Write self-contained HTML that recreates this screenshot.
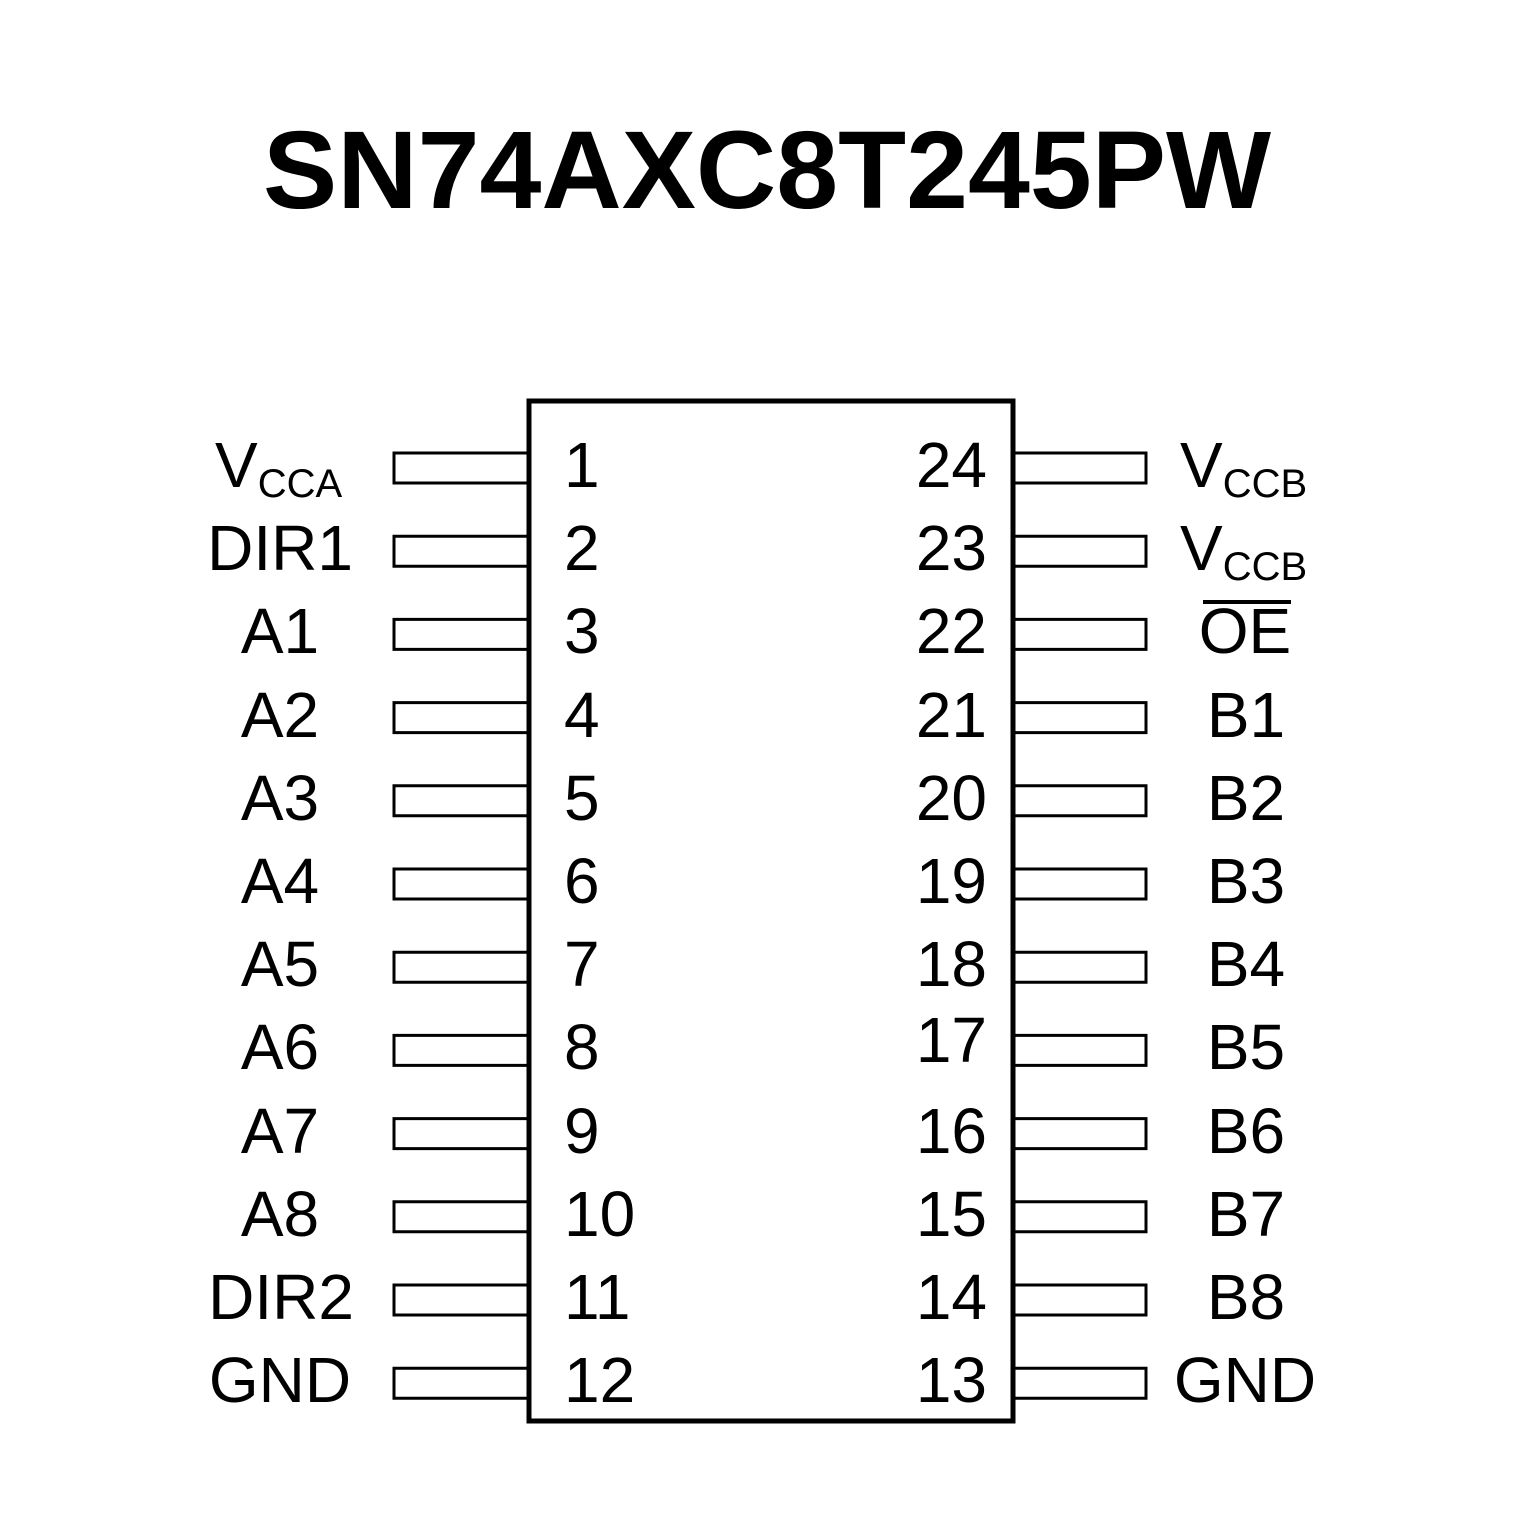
<!DOCTYPE html>
<html><head><meta charset="utf-8"><style>html,body{margin:0;padding:0;background:#fff}svg{display:block}</style></head>
<body>
<svg width="1535" height="1535" viewBox="0 0 1535 1535" xmlns="http://www.w3.org/2000/svg">
<rect width="1535" height="1535" fill="#fff"/>
<text x="767" y="208" text-anchor="middle" font-family="Liberation Sans, sans-serif" font-weight="bold" font-size="110" textLength="1008" lengthAdjust="spacingAndGlyphs">SN74AXC8T245PW</text>
<rect x="529" y="401" width="484" height="1020" fill="none" stroke="#000" stroke-width="5"/>
<g fill="none" stroke="#000" stroke-width="3">
<path d="M527 453H394V483H527M527 536.2H394V566.2H527M527 619.4H394V649.4H527M527 702.6H394V732.6H527M527 785.8H394V815.8H527M527 869H394V899H527M527 952.2H394V982.2H527M527 1035.4H394V1065.4H527M527 1118.6H394V1148.6H527M527 1201.8H394V1231.8H527M527 1285H394V1315H527M527 1368.2H394V1398.2H527"/>
<path d="M1015 453H1146V483H1015M1015 536.2H1146V566.2H1015M1015 619.4H1146V649.4H1015M1015 702.6H1146V732.6H1015M1015 785.8H1146V815.8H1015M1015 869H1146V899H1015M1015 952.2H1146V982.2H1015M1015 1035.4H1146V1065.4H1015M1015 1118.6H1146V1148.6H1015M1015 1201.8H1146V1231.8H1015M1015 1285H1146V1315H1015M1015 1368.2H1146V1398.2H1015"/>
</g>
<g font-family="Liberation Sans, sans-serif" font-size="64" fill="#000">
<g text-anchor="start">
<text x="564" y="487">1</text><text x="564" y="570">2</text><text x="564" y="653">3</text><text x="564" y="737">4</text><text x="564" y="820">5</text><text x="564" y="903">6</text><text x="564" y="986">7</text><text x="564" y="1069">8</text><text x="564" y="1153">9</text><text x="564" y="1236">10</text><text x="564" y="1319">11</text><text x="564" y="1402">12</text>
</g>
<g text-anchor="end">
<text x="987" y="487">24</text><text x="987" y="570">23</text><text x="987" y="653">22</text><text x="987" y="737">21</text><text x="987" y="820">20</text><text x="987" y="903">19</text><text x="987" y="986">18</text><text x="987" y="1062">17</text><text x="987" y="1153">16</text><text x="987" y="1236">15</text><text x="987" y="1319">14</text><text x="987" y="1402">13</text>
</g>
<g text-anchor="middle">
<text x="280" y="570">DIR1</text><text x="280" y="653">A1</text><text x="280" y="737">A2</text><text x="280" y="820">A3</text><text x="280" y="903">A4</text><text x="280" y="986">A5</text><text x="280" y="1069">A6</text><text x="280" y="1153">A7</text><text x="280" y="1236">A8</text><text x="281" y="1319">DIR2</text><text x="280" y="1402">GND</text>
<text x="1245" y="653">OE</text><text x="1246" y="737">B1</text><text x="1246" y="820">B2</text><text x="1246" y="903">B3</text><text x="1246" y="986">B4</text><text x="1246" y="1069">B5</text><text x="1246" y="1153">B6</text><text x="1246" y="1236">B7</text><text x="1246" y="1319">B8</text><text x="1245" y="1402">GND</text>
</g>
<text x="215" y="487">V<tspan font-size="40" dy="10">CCA</tspan></text>
<text x="1180" y="487">V<tspan font-size="40" dy="10">CCB</tspan></text>
<text x="1180" y="570">V<tspan font-size="40" dy="10">CCB</tspan></text>
</g>
<rect x="1203" y="600" width="88" height="4" fill="#000"/>
</svg>
</body></html>
